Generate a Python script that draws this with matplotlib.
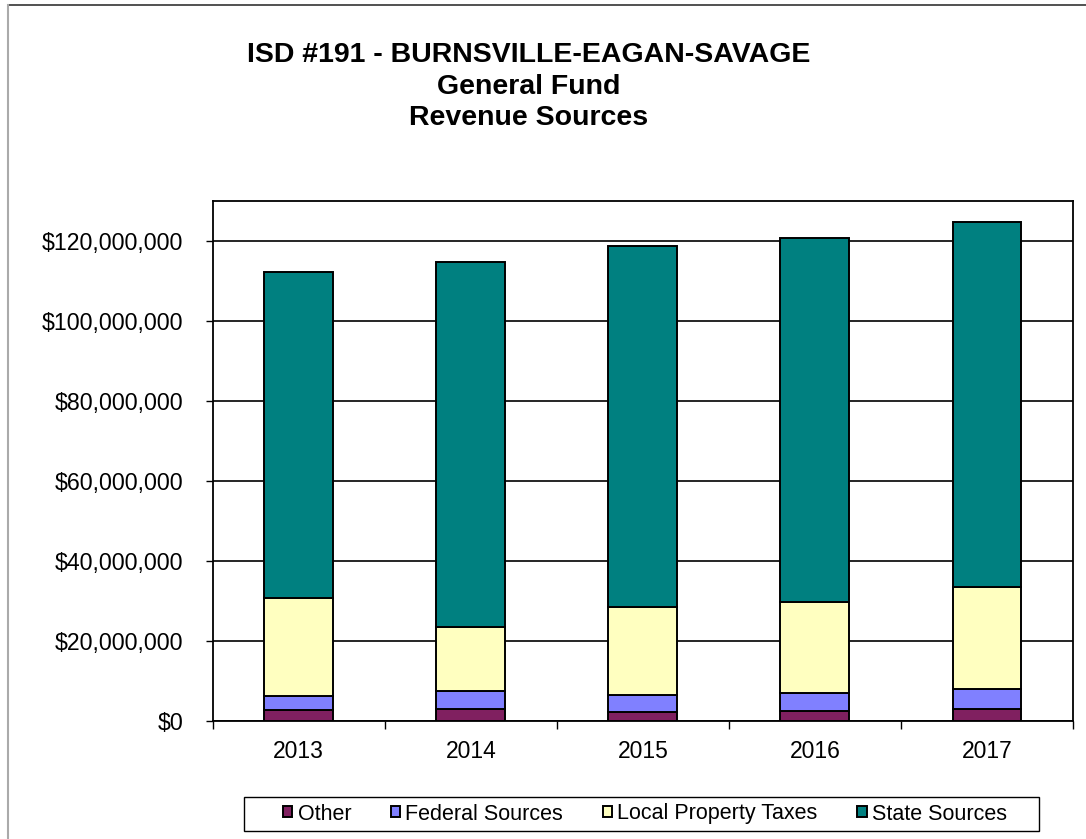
import matplotlib.pyplot as plt
from matplotlib.lines import Line2D
from matplotlib.patches import Rectangle
from matplotlib.ticker import FuncFormatter, FixedLocator

plt.rcParams["font.family"] = ["Liberation Sans", "DejaVu Sans"]

years = ["2013", "2014", "2015", "2016", "2017"]
other = [2_800_000, 3_100_000, 2_300_000, 2_600_000, 3_100_000]
federal = [3_400_000, 4_300_000, 4_300_000, 4_300_000, 4_800_000]
local_taxes = [24_600_000, 16_100_000, 22_000_000, 22_800_000, 25_700_000]
state = [81_500_000, 91_200_000, 90_200_000, 91_050_000, 91_000_000]

series = [
    ("Other", other, "#802060"),
    ("Federal Sources", federal, "#8080FF"),
    ("Local Property Taxes", local_taxes, "#FFFFC0"),
    ("State Sources", state, "#008080"),
]
title_lines = ["ISD #191 - BURNSVILLE-EAGAN-SAVAGE", "General Fund", "Revenue Sources"]

W, H = 1086, 839
fig = plt.figure(figsize=(W / 100, H / 100), dpi=100)
ax = fig.add_axes([212.7 / W, 1 - 721 / H, (1073 - 212.7) / W, (721 - 200.7) / H])

# outer chart border (only top and left are inside the picture)
fig.add_artist(Line2D([7.5 / W, 1], [1 - 5 / H, 1 - 5 / H], transform=fig.transFigure,
                      color="#333333", lw=1.2))
fig.add_artist(Line2D([7.5 / W, 7.5 / W], [0, 1 - 5 / H], transform=fig.transFigure,
                      color="#aaaaaa", lw=1.5))

x = list(range(len(years)))
bottom = [0] * len(years)
for label, vals, color in series:
    ax.bar(x, vals, width=0.40, bottom=bottom, color=color, edgecolor="black",
           linewidth=1.4, label=label, zorder=3)
    bottom = [b + v for b, v in zip(bottom, vals)]

ax.set_xlim(-0.5, len(years) - 0.5)
ax.set_ylim(0, 130_000_000)
ax.set_yticks(range(0, 120_000_001, 20_000_000))
ax.yaxis.set_major_formatter(FuncFormatter(lambda v, p: f"${v:,.0f}"))
ax.yaxis.grid(True, color="black", linewidth=1.2, zorder=0)
ax.tick_params(axis="y", length=5, width=1, pad=16, labelsize=16.7, direction="out")

# ticks between categories, labels at the centres
ax.xaxis.set_major_locator(FixedLocator([i - 0.5 for i in range(len(years) + 1)]))
ax.xaxis.set_minor_locator(FixedLocator(x))
ax.set_xticklabels([], minor=False)
ax.set_xticklabels(years, minor=True)
ax.tick_params(axis="x", which="major", length=6, width=1, direction="out")
ax.tick_params(axis="x", which="minor", length=0, pad=14, labelsize=16.5)

for s in ax.spines.values():
    s.set_linewidth(1.3)
    s.set_color("black")

for i, line in enumerate(title_lines):
    fig.text(529 / W, 1 - (62 + 31.5 * i) / H, line, ha="center", va="baseline",
             fontsize=20.5, fontweight="bold")

leg = fig.legend(loc="center", bbox_to_anchor=(645 / W, 1 - 814 / H), ncol=4,
                 fontsize=15.5, frameon=False, handlelength=0.42,
                 handleheight=0.42, handletextpad=0.25, columnspacing=1.85,
                 borderpad=0, borderaxespad=0)
fig.add_artist(Rectangle((244 / W, 1 - 831 / H), (1039 - 244) / W, 34 / H,
                         transform=fig.transFigure, fill=False, edgecolor="black", lw=1.0))

fig.savefig("out.png", dpi=100)
